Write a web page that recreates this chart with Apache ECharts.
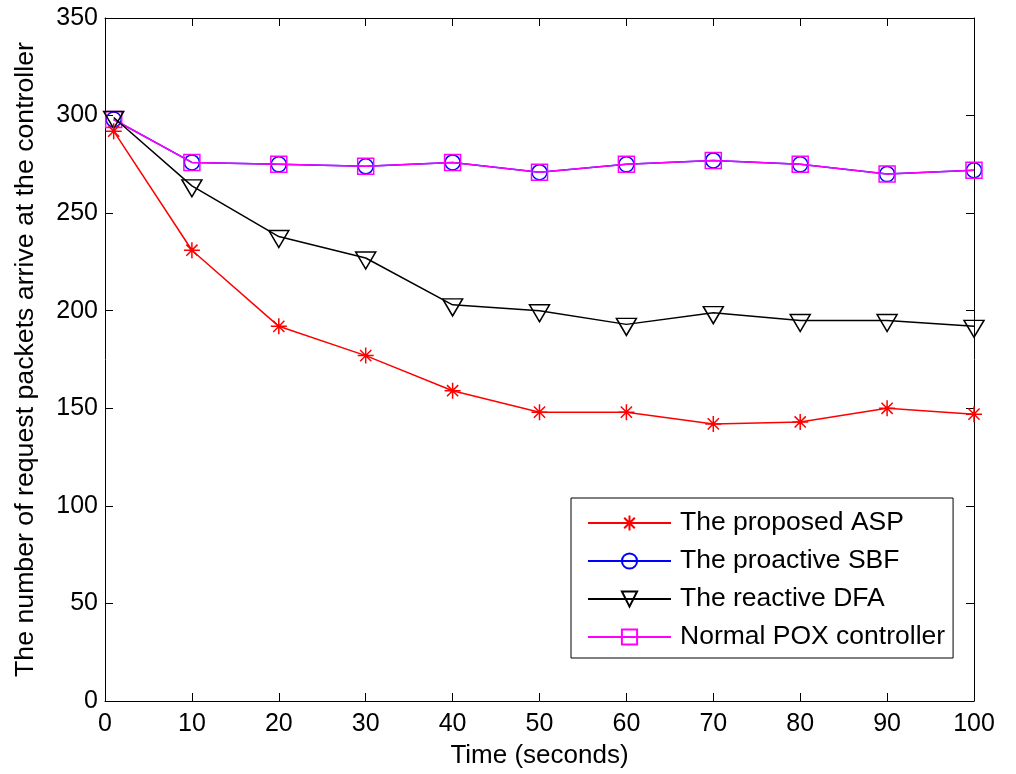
<!DOCTYPE html>
<html>
<head>
<meta charset="utf-8">
<script src="https://cdn.jsdelivr.net/npm/echarts@6/dist/echarts.min.js"></script>
<style>
html,body{margin:0;padding:0;background:#fff;}
#chart{width:1016px;height:774px;}
</style>
</head>
<body>
<div id="chart"></div>
<script>
const times = [1, 10, 20, 30, 40, 50, 60, 70, 80, 90, 100];
const aspValues = [292, 231, 192, 177, 159, 148, 148, 142, 143, 150, 147];
const sbfValues = [298, 276, 275, 274, 276, 271, 275, 277, 275, 270, 272];
const dfaValues = [299, 264, 238, 227, 203, 200, 193, 199, 195, 195, 192];
const poxValues = [298, 276, 275, 274, 276, 271, 275, 277, 275, 270, 272];
const seriesNames = ['The proposed ASP', 'The proactive SBF', 'The reactive DFA', 'Normal POX controller'];
const xTitle = 'Time (seconds)';
const yTitle = 'The number of request packets arrive at the controller';

const pairs = vals => times.map((t, i) => [t, vals[i]]);
const FONT = 'Liberation Sans, Arial, sans-serif';
const starPath = 'path://M0,-10L0,10M-10,0L10,0M-7,-7L7,7M-7,7L7,-7';
const triPath = 'path://M-10,-6L10,-6L0,11Z';

const chart = echarts.init(document.getElementById('chart'));
const axisCommon = {
  axisLine: {show: true, onZero: false, lineStyle: {color: '#000', width: 1}},
  axisTick: {show: true, inside: true, length: 8, lineStyle: {color: '#000', width: 1}},
  splitLine: {show: false}
};
chart.setOption({
  animation: false,
  backgroundColor: '#fff',
  grid: {left: 105, right: 42, top: 18, bottom: 72, containLabel: false},
  xAxis: [
    Object.assign({
      type: 'value', min: 0, max: 100, interval: 10, position: 'bottom',
      name: xTitle, nameLocation: 'middle', nameGap: 42,
      nameTextStyle: {fontFamily: FONT, fontSize: 26, color: '#000'},
      axisLabel: {fontFamily: FONT, fontSize: 25, color: '#000', margin: 11}
    }, axisCommon),
    Object.assign({
      type: 'value', min: 0, max: 100, interval: 10, position: 'top',
      axisLabel: {show: false}
    }, axisCommon)
  ],
  yAxis: [
    Object.assign({
      type: 'value', min: 0, max: 350, interval: 50, position: 'left',
      name: yTitle, nameLocation: 'middle', nameGap: 66,
      nameTextStyle: {fontFamily: FONT, fontSize: 26.7, color: '#000'},
      axisLabel: {fontFamily: FONT, fontSize: 25, color: '#000', margin: 7}
    }, axisCommon),
    Object.assign({
      type: 'value', min: 0, max: 350, interval: 50, position: 'right',
      axisLabel: {show: false}
    }, axisCommon)
  ],
  legend: {
    orient: 'vertical', left: 571, top: 498,
    backgroundColor: '#fff',
    borderColor: '#000', borderWidth: 1,
    padding: [10, 8, 6, 16],
    itemWidth: 83, itemHeight: 19, itemGap: 8,
    textStyle: {fontFamily: FONT, fontSize: 26.5, color: '#000', lineHeight: 30, padding: [0, 0, 0, 4]},
    data: seriesNames
  },
  series: [
    {
      name: seriesNames[1], type: 'line', data: pairs(sbfValues),
      symbol: 'circle', symbolSize: 15,
      lineStyle: {color: '#0000ff', width: 1.5},
      itemStyle: {color: 'rgba(255,255,255,0)', borderColor: '#0000ff', borderWidth: 1.5},
      z: 2
    },
    {
      name: seriesNames[3], type: 'line', data: pairs(poxValues),
      symbol: 'rect', symbolSize: 16,
      lineStyle: {color: '#ff00ff', width: 1.5},
      itemStyle: {color: 'rgba(255,255,255,0)', borderColor: '#ff00ff', borderWidth: 1.5},
      z: 3
    },
    {
      name: seriesNames[2], type: 'line', data: pairs(dfaValues),
      symbol: triPath, symbolSize: [20, 17], symbolOffset: [0, 2.5],
      lineStyle: {color: '#000', width: 1.5},
      itemStyle: {color: 'rgba(255,255,255,0)', borderColor: '#000', borderWidth: 1.5},
      z: 4
    },
    {
      name: seriesNames[0], type: 'line', data: pairs(aspValues),
      symbol: starPath, symbolSize: 16,
      lineStyle: {color: '#ff0000', width: 1.5},
      itemStyle: {color: '#ff0000', borderColor: '#ff0000', borderWidth: 1.5},
      z: 5
    }
  ]
});
</script>
</body>
</html>
